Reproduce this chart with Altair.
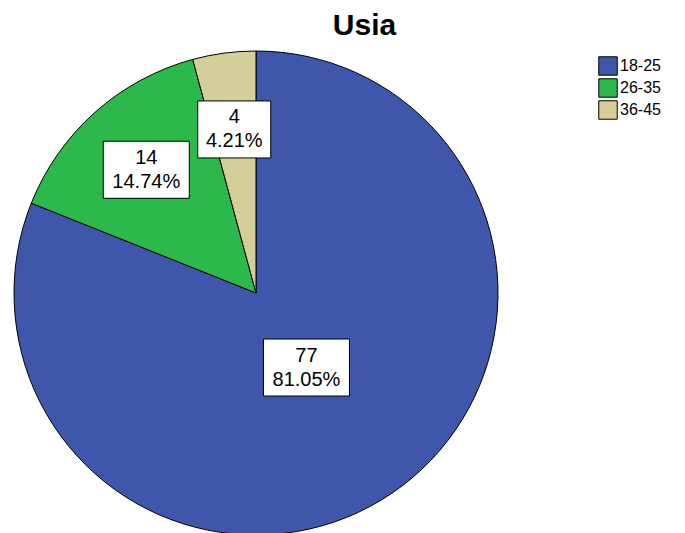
import altair as alt
import pandas as pd

categories = ["18-25", "26-35", "36-45"]
counts = [77, 14, 4]
percents = ["81.05%", "14.74%", "4.21%"]
colors = ["#3F57AB", "#2DB84B", "#D4CF98"]

df = pd.DataFrame({
    "age": categories,
    "count": counts,
    "pct": percents,
    "order": list(range(len(categories))),
})

W, H = 669, 480
CX, CY = 248, 240
R = 242

base = alt.Chart(df)

pie = base.mark_arc(stroke="black", strokeWidth=1, outerRadius=R).encode(
    theta=alt.Theta("count:Q", stack=True),
    order=alt.Order("order:Q"),
    color=alt.Color(
        "age:N",
        scale=alt.Scale(domain=categories, range=colors),
        legend=alt.Legend(
            title=None, orient="none", legendX=590, legendY=3,
            symbolType="square", symbolSize=340, symbolStrokeColor="black",
            symbolStrokeWidth=1, symbolOpacity=1,
            labelFont="Liberation Sans", labelFontSize=16, labelColor="black",
            labelOffset=2, rowPadding=-3, padding=0,
        ),
    ),
    x=alt.value(CX),
    y=alt.value(CY),
)

labeled = base.transform_joinaggregate(total="sum(count)").transform_window(
    cum="sum(count)", sort=[alt.SortField("order")]
).transform_calculate(
    mid="(datum.cum - datum.count / 2) / datum.total * 2 * PI",
    rr="datum.count / datum.total > 0.5 ? 90 : 165",
    lx="datum.rr * sin(datum.mid)",
    ly="datum.rr * cos(datum.mid)",
    label="datum.count + '\\n' + datum.pct",
    hw="6.5 * length(datum.pct) + 4",
    box="'M' + (-datum.hw) + ',-28.5H' + datum.hw + 'V28.5H' + (-datum.hw) + 'Z'",
)

xs = alt.X("lx:Q", scale=alt.Scale(domain=[-CX, W - CX]), axis=None)
ys = alt.Y("ly:Q", scale=alt.Scale(domain=[-(H - CY), CY]), axis=None)

boxes = labeled.mark_point(
    size=4, filled=True,
    fill="white", stroke="black", strokeWidth=1, opacity=1,
).encode(x=xs, y=ys, shape=alt.Shape("box:N", scale=None))

texts = labeled.mark_text(
    font="Liberation Sans", fontSize=20, lineBreak="\n", lineHeight=24,
    color="black", baseline="middle", align="center", dy=-12,
).encode(x=xs, y=ys, text="label:N")

chart = alt.layer(pie, boxes, texts).properties(
    width=W, height=H,
    autosize=alt.AutoSizeParams(type="none"),
    padding={"left": 0, "top": 45, "right": 0, "bottom": 0},
    title=alt.TitleParams(
        "Usia", font="Liberation Sans", fontSize=30, fontWeight="bold",
        color="black", anchor="middle", offset=8, dx=22,
    ),
).configure_view(stroke=None)

chart.save("out.html", embed_options={"renderer": "svg", "actions": False})
